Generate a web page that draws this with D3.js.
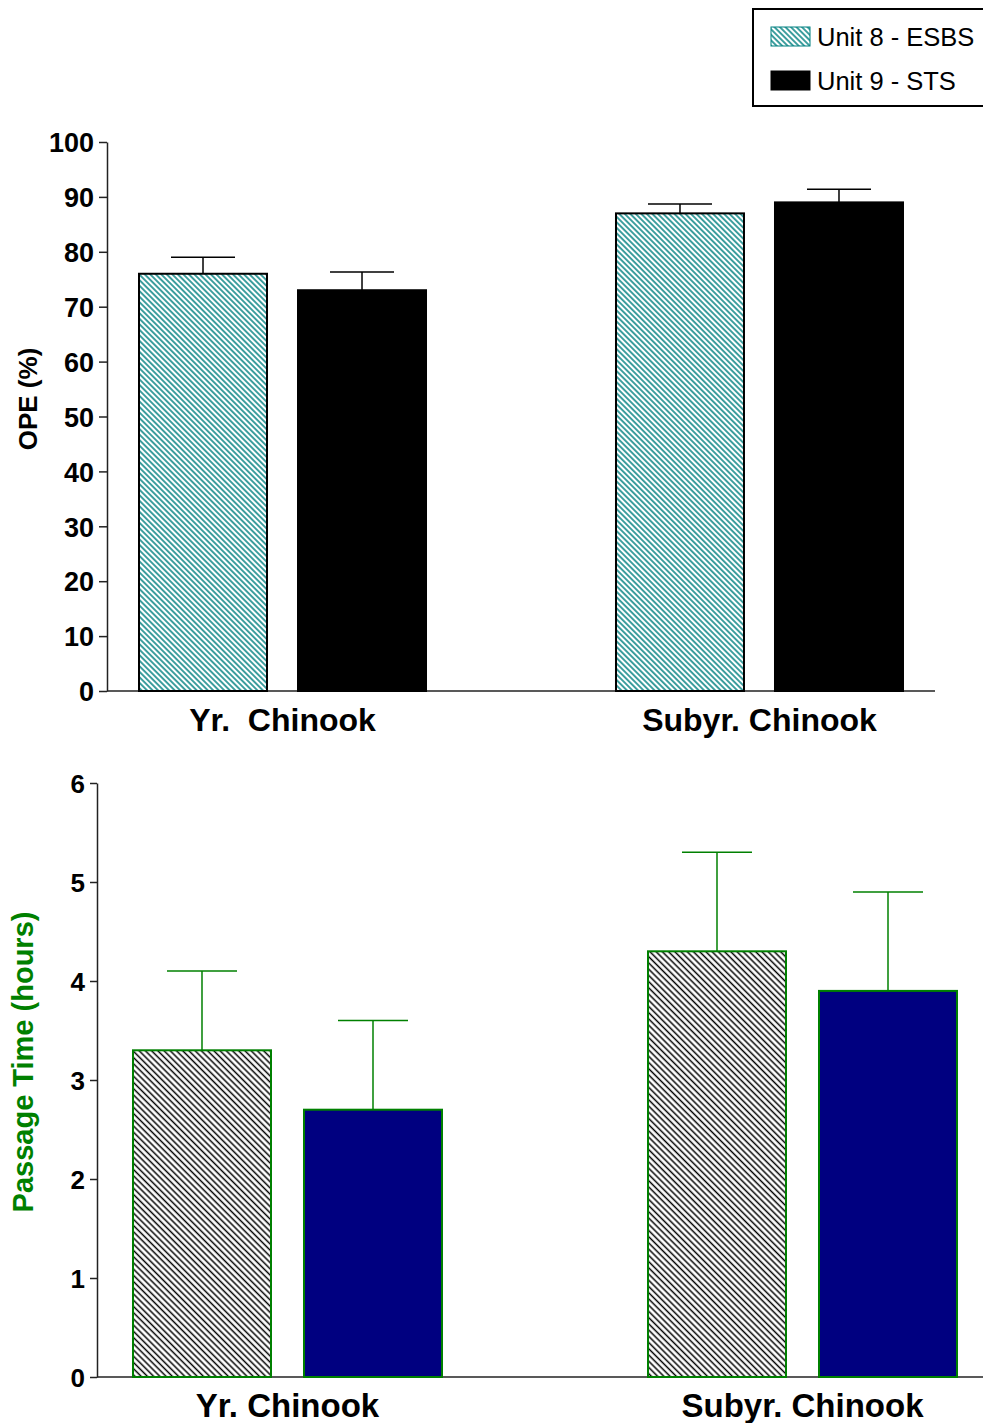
<!DOCTYPE html>
<html><head><meta charset="utf-8">
<script src="https://cdn.jsdelivr.net/npm/d3@7"></script>
<style>body{margin:0;background:#fff}svg{display:block}text{font-family:Arial,"Liberation Sans",sans-serif}</style>
</head><body><svg id="c" width="983" height="1423"></svg>
<script>
const categories = ["Yr.  Chinook", "Subyr. Chinook"];
const categoriesBottom = ["Yr. Chinook", "Subyr. Chinook"];
const series = ["Unit 8 - ESBS", "Unit 9 - STS"];
const opeValues = [[76, 73], [87, 89]];
const opeErrors = [[79, 76.3], [88.7, 91.4]];
const passValues = [[3.3, 2.7], [4.3, 3.9]];
const passErrors = [[4.1, 3.6], [5.3, 4.9]];
const opeTicks = [0,10,20,30,40,50,60,70,80,90,100];
const passTicks = [0,1,2,3,4,5,6];

const svg = d3.select("#c");
const defs = svg.append("defs");
function hatch(id, color, size, lw){
  const p = defs.append("pattern").attr("id", id).attr("patternUnits","userSpaceOnUse")
    .attr("width", size).attr("height", size).attr("patternTransform","rotate(-45)");
  p.append("rect").attr("width",size).attr("height",size).attr("fill","#fff");
  p.append("line").attr("x1",size/2).attr("x2",size/2).attr("y1",-1).attr("y2",size+1)
    .attr("stroke",color).attr("stroke-width",lw);
}
hatch("hTeal", "#008080", 3.9, 1.5);
hatch("hBlack", "#000", 4.4, 1.5);

function panel(o){
  const y = d3.scaleLinear().domain(o.domain).range([o.y0, o.y1]);
  const x0 = d3.scaleBand().domain(o.cats).range([o.xa, o.xb]).paddingInner(o.pin).paddingOuter(o.pout);
  const x1 = d3.scaleBand().domain(series).range([0, x0.bandwidth()]).paddingInner(o.gap);
  const g = svg.append("g");
  const ya = g.append("g").attr("transform",`translate(${o.xAxis},0)`)
    .call(d3.axisLeft(y).tickValues(o.ticks).tickFormat(d3.format("d")).tickSize(o.tick).tickPadding(o.tpad).tickSizeOuter(0));
  ya.select(".domain").attr("stroke","#222").attr("stroke-width",1.5);
  ya.selectAll(".tick line").attr("stroke","#222").attr("stroke-width",1.5);
  ya.selectAll(".tick text").attr("font-size",o.tfs).attr("font-weight","bold").attr("fill","#000").attr("dy","0.36em");
  g.append("line").attr("x1",o.xAxis).attr("x2",o.xEnd).attr("y1",y(0)).attr("y2",y(0))
    .attr("stroke","#222").attr("stroke-width",1.5);
  o.cats.forEach((c, i) => {
    series.forEach((s, j) => {
      const bx = x0(c) + x1(s), bw = x1.bandwidth();
      const v = o.vals[i][j], e = o.errs[i][j];
      const cx = bx + bw/2;
      g.append("line").attr("x1",cx).attr("x2",cx).attr("y1",y(e)).attr("y2",y(v))
        .attr("stroke",o.eColor).attr("stroke-width",1.5);
      g.append("line").attr("x1",cx-o.cap).attr("x2",cx+o.cap).attr("y1",y(e)).attr("y2",y(e))
        .attr("stroke",o.eColor).attr("stroke-width",1.5);
      g.append("rect").attr("x",bx).attr("y",y(v)).attr("width",bw).attr("height",y(0)-y(v))
        .attr("fill", o.fills[j]).attr("stroke",o.stroke).attr("stroke-width",2);
    });
    g.append("text").attr("x", x0(c)+x0.bandwidth()/2).attr("y", o.labY)
      .attr("text-anchor","middle").attr("font-size",o.cfs).attr("font-weight","bold")
      .attr("xml:space","preserve").style("white-space","pre").text(c);
  });
  g.append("text").attr("transform",`translate(${o.ylx},${o.yly}) rotate(-90)`)
    .attr("text-anchor","middle").attr("font-size",o.yfs).attr("font-weight","bold")
    .attr("fill",o.ylColor).text(o.ylabel);
}

panel({domain:[0,100], y0:691, y1:142, cats:categories, xa:107, xb:935, pin:0.3983, pout:0.0671, gap:0.195,
  xAxis:107, xEnd:935, ticks:opeTicks, tick:8, tpad:5, tfs:27, vals:opeValues, errs:opeErrors,
  eColor:"#000", cap:32, fills:["url(#hTeal)","#000"], stroke:"#000", labY:731, cfs:32,
  ylx:37, yly:399, yfs:26, ylColor:"#000", ylabel:"OPE (%)"});

panel({domain:[0,6], y0:1377, y1:783, cats:categoriesBottom, xa:97, xb:993, pin:0.4, pout:0.0699, gap:0.193,
  xAxis:97, xEnd:983, ticks:passTicks, tick:7, tpad:5, tfs:26, vals:passValues, errs:passErrors,
  eColor:"#008000", cap:35, fills:["url(#hBlack)","#000080"], stroke:"#008000", labY:1417, cfs:33,
  ylx:33, yly:1062, yfs:29, ylColor:"#008000", ylabel:"Passage Time (hours)"});

// legend
const lg = svg.append("g");
lg.append("rect").attr("x",753).attr("y",9).attr("width",240).attr("height",97)
  .attr("fill","#fff").attr("stroke","#000").attr("stroke-width",2);
const lfills = ["url(#hTeal)","#000"];
series.forEach((s,i)=>{
  const yy = 27 + i*44;
  lg.append("rect").attr("x",771).attr("y",yy).attr("width",39).attr("height",19)
    .attr("fill",lfills[i]).attr("stroke", i===0?"#008080":"#000").attr("stroke-width",1);
  lg.append("text").attr("x",817).attr("y",yy+19).attr("font-size",25.5).attr("fill","#000").text(s);
});
</script></body></html>
